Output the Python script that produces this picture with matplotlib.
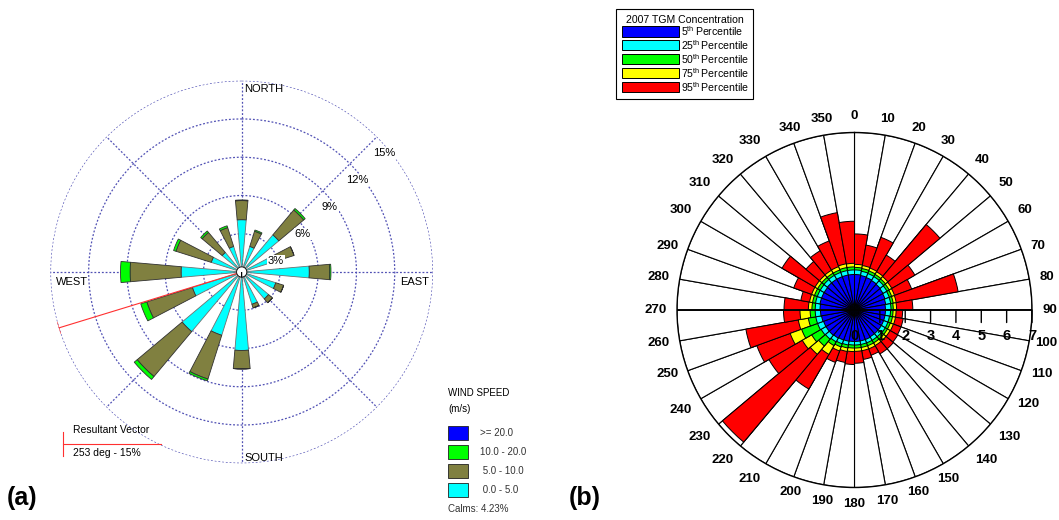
import numpy as np
import matplotlib.pyplot as plt
from matplotlib.patches import Rectangle
from matplotlib.lines import Line2D

plt.rcParams['font.family'] = ['Liberation Sans', 'DejaVu Sans']
plt.rcParams['mathtext.fontset'] = 'custom'
plt.rcParams['mathtext.rm'] = 'Liberation Sans'

# ---------- (a) wind rose: frequency (%) per 22.5 deg sector and speed class
dir16 = np.arange(16) * 22.5
f_0_5 = np.array([4.1, 2.1, 3.8, 2.3, 5.3, 2.8, 2.75, 2.65,
                  6.15, 5.2, 6.1, 4.05, 4.75, 2.5, 2.0, 2.1])
f_5_10 = np.array([1.5, 1.25, 2.55, 2.0, 1.6, 0.65, 0.4, 0.3,
                   1.45, 3.6, 4.6, 3.75, 4.0, 2.9, 2.05, 1.55])
f_10_20 = np.array([0.05, 0.1, 0.15, 0.0, 0.1, 0.0, 0.0, 0.0,
                    0.0, 0.15, 0.3, 0.5, 0.75, 0.2, 0.15, 0.15])
f_20 = np.zeros(16)
speed_labels = ['>= 20.0', '10.0 - 20.0', ' 5.0 - 10.0', ' 0.0 - 5.0']
speed_colors = ['#0000ff', '#00ff00', '#808040', '#00ffff']
ring_pct = [3, 6, 9, 12, 15]
calms = 4.23
res_dir = 253
res_pct = 15

# ---------- (b) TGM concentration percentiles per 10 deg sector
sec_start = np.arange(0, 360, 10)
p5 = [1.40, 1.38, 1.36, 1.34, 1.32, 1.30, 1.28, 1.25, 1.22, 1.22, 1.22, 1.22,
      1.22, 1.22, 1.22, 1.24, 1.24, 1.24, 1.24, 1.25, 1.26, 1.28, 1.30, 1.30,
      1.30, 1.32, 1.34, 1.36, 1.38, 1.38, 1.38, 1.40, 1.40, 1.40, 1.40, 1.40]
p25 = [1.58, 1.55, 1.53, 1.52, 1.50, 1.48, 1.46, 1.45, 1.44, 1.42, 1.40, 1.40,
       1.40, 1.38, 1.38, 1.38, 1.38, 1.38, 1.38, 1.40, 1.42, 1.45, 1.50, 1.52,
       1.55, 1.55, 1.55, 1.55, 1.56, 1.56, 1.56, 1.57, 1.58, 1.58, 1.58, 1.58]
p50 = [1.68, 1.66, 1.64, 1.62, 1.60, 1.58, 1.56, 1.55, 1.53, 1.52, 1.52, 1.50,
       1.50, 1.50, 1.50, 1.50, 1.50, 1.50, 1.50, 1.52, 1.55, 1.62, 1.85, 1.95,
       2.22, 1.85, 1.75, 1.68, 1.68, 1.68, 1.68, 1.68, 1.68, 1.68, 1.70, 1.70]
p75 = [1.80, 1.78, 1.76, 1.74, 1.72, 1.70, 1.68, 1.67, 1.66, 1.64, 1.64, 1.63,
       1.62, 1.62, 1.62, 1.63, 1.63, 1.63, 1.64, 1.66, 1.72, 2.02, 2.28, 2.38,
       2.70, 2.25, 2.15, 1.82, 1.80, 1.80, 1.80, 1.80, 1.81, 1.82, 1.85, 1.84]
p95 = [3.0, 2.6, 3.05, 2.5, 4.4, 2.75, 2.4, 4.15, 2.3, 1.9, 1.95, 1.95,
       1.97, 2.0, 2.0, 1.9, 1.98, 2.1, 2.15, 2.1, 2.2, 3.6, 6.8, 3.9,
       4.1, 4.35, 2.8, 2.78, 2.15, 2.55, 3.3, 2.5, 2.7, 2.9, 3.9, 3.5]
pct_names = ['5', '25', '50', '75', '95']
pct_colors = ['#0000ff', '#00ffff', '#00ff00', '#ffff00', '#ff0000']
r_max = 7

W, H = 1059, 520
fig = plt.figure(figsize=(W / 100, H / 100), dpi=100)

# ================= panel (a) =================
axa = fig.add_axes([50.4 / W, 56.7 / H, 382.6 / W, 382.6 / H], projection='polar')
axa.set_theta_zero_location('N')
axa.set_theta_direction(-1)
axa.set_ylim(0, 15)
axa.set_axis_off()

grid_c = '#5050b4'
tt = np.linspace(0, 2 * np.pi, 400)
for r in ring_pct:
    axa.plot(tt, np.full_like(tt, r), color=grid_c, lw=0.9, ls=(0, (1.5, 1.5)), zorder=1)
for a in range(0, 360, 45):
    axa.plot([np.deg2rad(a)] * 2, [0, 15], color=grid_c, lw=0.9, ls=(0, (1.5, 1.5)), zorder=1)

th = np.deg2rad(dir16)
bw = np.deg2rad(10)
axa.bar(th, f_0_5, width=bw, color='#00ffff', edgecolor='#707070', lw=0.6, zorder=3)
axa.bar(th, f_5_10, width=bw, bottom=f_0_5, color='#808040', edgecolor='#303030', lw=0.6, zorder=3)
axa.bar(th, f_10_20, width=bw, bottom=f_0_5 + f_5_10, color='#00ff00', edgecolor='#303030', lw=0.6, zorder=3)
axa.bar(th, f_20, width=bw, bottom=f_0_5 + f_5_10 + f_10_20, color='#0000ff', lw=0, zorder=3)
axa.bar(0, 0.4, width=2 * np.pi, color='white', edgecolor='black', lw=0.6, zorder=5)

# resultant vector
rd = np.deg2rad(res_dir)
axa.plot([rd, rd], [0, res_pct], color='#ff3030', lw=0.8, zorder=4)
px, py = res_pct * np.sin(rd), res_pct * np.cos(rd)
nx, ny = np.cos(rd) * 0.45, -np.sin(rd) * 0.45
ex = np.array([px - nx, px + nx])
ey = np.array([py - ny, py + ny])
axa.plot(np.arctan2(ex, ey), np.hypot(ex, ey), color='#ff3030', lw=0.8, zorder=4)

for r in ring_pct:
    axa.annotate(f'{r}%', xy=(np.deg2rad(45), r), xytext=(5, -11.5),
                 textcoords='offset points', ha='center', va='center', fontsize=8,
                 zorder=6, bbox=dict(boxstyle='square,pad=0.1', fc='white', ec='none'))

compass = [('NORTH', 0, (2, -6), 'left'), ('EAST', 90, (-3, -7), 'right'),
           ('SOUTH', 180, (2, 4), 'left'), ('WEST', 270, (4, -7), 'left')]
for name, a, off, ha in compass:
    axa.annotate(name, xy=(np.deg2rad(a), 15), xytext=off, textcoords='offset points',
                 ha=ha, va='center', fontsize=8)

# legend (a)
def px2fig(x, y):
    return x / W, 1 - y / H

fig.text(*px2fig(448, 393), 'WIND SPEED', fontsize=7, va='center')
fig.text(*px2fig(448, 409), '(m/s)', fontsize=7, va='center')
for i, (lab, col) in enumerate(zip(speed_labels, speed_colors)):
    yc = 433 + 19 * i
    x0, y0 = px2fig(448, yc + 7)
    fig.add_artist(Rectangle((x0, y0), 20 / W, 14 / H, transform=fig.transFigure,
                             facecolor=col, edgecolor='#202020', lw=0.6))
    fig.text(*px2fig(480, yc), lab, fontsize=7, va='center', color='#333333')
fig.text(*px2fig(448, 509), f'Calms: {calms:.2f}%', fontsize=7, va='center', color='#333333')

# resultant vector key
fig.add_artist(Line2D([63 / W, 161 / W], [1 - 444 / H] * 2, transform=fig.transFigure,
                      color='#ff3030', lw=0.8))
fig.add_artist(Line2D([63 / W] * 2, [1 - 432 / H, 1 - 456 / H], transform=fig.transFigure,
                      color='#ff3030', lw=0.8))
fig.text(*px2fig(73, 430), 'Resultant Vector', fontsize=7.5, va='center')
fig.text(*px2fig(73, 453), f'{res_dir} deg - {res_pct}%', fontsize=7.5, va='center')

fig.text(*px2fig(7, 498), '(a)', fontsize=18, fontweight='bold', va='center')
fig.text(*px2fig(569, 498), '(b)', fontsize=18, fontweight='bold', va='center')

# ================= panel (b) =================
axb = fig.add_axes([677 / W, 32.5 / H, 355 / W, 355 / H], projection='polar')
axb.set_theta_zero_location('N')
axb.set_theta_direction(-1)
axb.set_ylim(0, r_max)
axb.set_xticks([])
axb.set_yticks([])
axb.grid(False)
axb.spines['polar'].set_linewidth(1.0)

sc = np.deg2rad(sec_start + 5)
sw = np.deg2rad(10)
axb.bar(sc, r_max, width=sw, color='white', edgecolor='black', lw=0.8, zorder=2)
for vals, col in zip([p95, p75, p50, p25, p5], pct_colors[::-1]):
    axb.bar(sc, vals, width=sw, color=col, edgecolor='black', lw=0.7, zorder=3)

for a in (np.pi / 2, 3 * np.pi / 2):
    axb.plot([a, a], [0, r_max], color='black', lw=1.3, zorder=4)

for r in range(0, r_max + 1):
    if r > 0:
        axb.annotate('', xy=(np.pi / 2, r), xytext=(0, -9), textcoords='offset points',
                     arrowprops=dict(arrowstyle='-', lw=1.0, color='black',
                                     shrinkA=0, shrinkB=0), zorder=4)
    axb.annotate(str(r), xy=(np.pi / 2, r), xytext=(0, -19), textcoords='offset points',
                 ha='center', va='center', fontsize=10.5, fontweight='bold', zorder=6)

for a in sec_start:
    s, c = np.sin(np.deg2rad(a)), np.cos(np.deg2rad(a))
    ha = 'left' if s > 0.5 else ('right' if s < -0.5 else 'center')
    va = 'bottom' if c > 0.5 else ('top' if c < -0.5 else 'center')
    # the 100 label sits at the right edge of the figure; pull it in a little
    dx = -3 if a == 100 else 0
    axb.annotate(str(a), xy=(np.deg2rad(a), 7.4), xytext=(dx, 0), textcoords='offset points',
                 ha=ha, va=va, fontsize=9.5, fontweight='bold', annotation_clip=False)

# legend (b)
fig.add_artist(Rectangle(px2fig(616, 99), 137 / W, 90 / H, transform=fig.transFigure,
                         facecolor='white', edgecolor='black', lw=0.8))
fig.text(*px2fig(685, 20), '2007 TGM Concentration', fontsize=7.6, ha='center', va='center')
for i, (nm, col) in enumerate(zip(pct_names, pct_colors)):
    yc = 31.5 + 13.8 * i
    fig.add_artist(Rectangle(px2fig(622, yc + 5), 57 / W, 10 / H, transform=fig.transFigure,
                             facecolor=col, edgecolor='black', lw=0.7))
    fig.text(*px2fig(681, yc), nm + r'$^{\rm th}\,$Percentile', fontsize=7.6, va='center')

fig.savefig('out.png', dpi=100)
